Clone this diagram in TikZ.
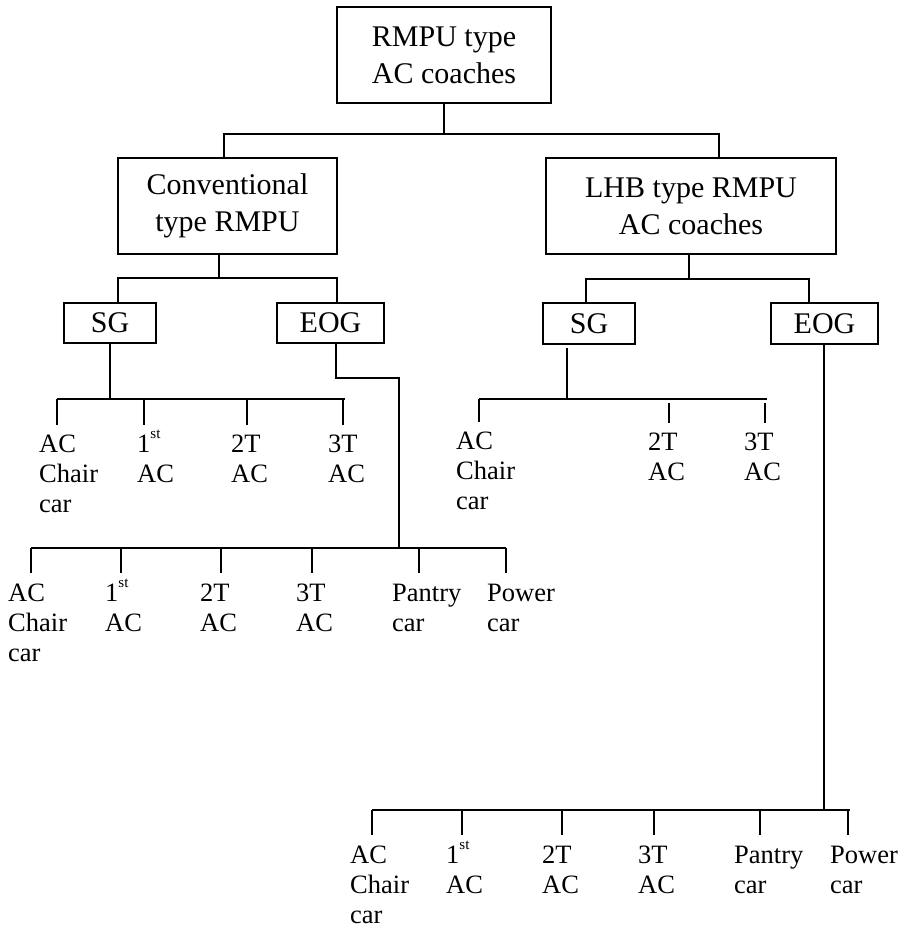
\documentclass[tikz,border=0pt]{standalone}
\usepackage{fontspec}
\setmainfont{Liberation Serif}
\newcommand{\supst}{\raisebox{0.5em}{\fontsize{15}{15}\selectfont st}}
\begin{document}
\begin{tikzpicture}[x=1pt,y=1pt,
  box/.style={draw, line width=2pt, inner sep=0pt, align=center, font=\fontsize{30}{37}\selectfont},
  leaf/.style={anchor=base west, inner sep=0pt, font=\fontsize{26.5}{30}\selectfont},
  conn/.style={line width=1.6pt}]
\useasboundingbox (0,0) rectangle (909,-927);
% boxes
\node[box, minimum width=214pt, minimum height=96pt] (top) at (444,-55) {RMPU type\\AC coaches};
\node[box, minimum width=219pt, minimum height=96pt] (conv) at (227.5,-206) {Conventional\\type RMPU};
\node[box, minimum width=290pt, minimum height=96pt] (lhb) at (691,-206) {LHB type RMPU\\AC coaches};
\node[box, minimum width=92pt, minimum height=40pt] (sgA) at (110,-323) {SG};
\node[box, minimum width=107pt, minimum height=40pt] (eogA) at (330.5,-323) {EOG};
\node[box, minimum width=92pt, minimum height=41pt] (sgB) at (589,-323.5) {SG};
\node[box, minimum width=107pt, minimum height=41pt] (eogB) at (824.5,-323.5) {EOG};
% junction coordinates
\coordinate (j1L) at (224,-134);
\coordinate (j1R) at (719,-134);
\coordinate (j2L) at (118,-278);
\coordinate (j2R) at (337,-278);
\coordinate (j2M) at (219,-278);
\coordinate (j3L) at (586,-279);
\coordinate (j3R) at (809,-279);
\coordinate (j3M) at (689,-279);
% level 1
\draw[conn] (top.south) -- (top.south |- j1L);
\draw[conn] (j1L |- conv.north) -- (j1L) -- (j1R) -- (j1R |- lhb.north);
% conventional
\draw[conn] (j2M |- conv.south) -- (j2M);
\draw[conn] (j2L |- sgA.north) -- (j2L) -- (j2R) -- (j2R |- eogA.north);
% LHB
\draw[conn] (j3M |- lhb.south) -- (j3M);
\draw[conn] (j3L |- sgB.north) -- (j3L) -- (j3R) -- (j3R |- eogB.north);
% SG A leaves
\coordinate (a0) at (57,-399);
\coordinate (a1) at (144,-399);
\coordinate (a2) at (247,-399);
\coordinate (a3) at (343,-399);
\coordinate (aE) at (345,-399);
\draw[conn] (sgA.south) -- (sgA.south |- a0);
\draw[conn] (a0) -- (aE);
\foreach \c in {a0,a1,a2,a3} \draw[conn] (\c) -- ++(0,-26);
\node[leaf] (la0) at (39,-452) {\parbox[t]{4em}{AC\\Chair\\car}};
\node[leaf] (la1) at (137,-452) {\parbox[t]{4em}{1\supst\\AC}};
\node[leaf] (la2) at (231,-452) {\parbox[t]{4em}{2T\\AC}};
\node[leaf] (la3) at (328,-452) {\parbox[t]{4em}{3T\\AC}};
% EOG A leaves
\coordinate (eA1) at (336,-378);
\coordinate (eA2) at (399,-378);
\coordinate (b0) at (31,-548);
\coordinate (b1) at (121,-548);
\coordinate (b2) at (221,-548);
\coordinate (b3) at (312,-548);
\coordinate (b4) at (419,-548);
\coordinate (b5) at (506,-548);
\draw[conn] (eogA.south -| eA1) -- (eA1) -- (eA2) -- (eA2 |- b0);
\draw[conn] (b0) -- (b5);
\foreach \c in {b0,b1,b2,b3,b4,b5} \draw[conn] (\c) -- ++(0,-25);
\node[leaf] (lb0) at (8,-601) {\parbox[t]{4em}{AC\\Chair\\car}};
\node[leaf] (lb1) at (105,-601) {\parbox[t]{4em}{1\supst\\AC}};
\node[leaf] (lb2) at (200,-601) {\parbox[t]{4em}{2T\\AC}};
\node[leaf] (lb3) at (296,-601) {\parbox[t]{4em}{3T\\AC}};
\node[leaf] (lb4) at (392,-601) {\parbox[t]{4em}{Pantry\\car}};
\node[leaf] (lb5) at (487,-601) {\parbox[t]{4em}{Power\\car}};
% SG B leaves
\coordinate (c0) at (479,-399);
\coordinate (cS) at (567,-399);
\coordinate (cE) at (767,-399);
\coordinate (c1) at (669,-403);
\coordinate (c2) at (765,-403);
\draw[conn] ([yshift=-3pt]sgB.south -| cS) -- (cS);
\draw[conn] (c0) -- (cE);
\draw[conn] (c0) -- ++(0,-23);
\foreach \c in {c1,c2} \draw[conn] (\c) -- ++(0,-20);
\node[leaf] (lc0) at (456,-449) {\parbox[t]{4em}{AC\\Chair\\car}};
\node[leaf] (lc1) at (648,-450) {\parbox[t]{4em}{2T\\AC}};
\node[leaf] (lc2) at (744,-450) {\parbox[t]{4em}{3T\\AC}};
% EOG B leaves
\coordinate (d0) at (372,-810);
\coordinate (d1) at (462,-810);
\coordinate (d2) at (562,-810);
\coordinate (d3) at (654,-810);
\coordinate (d4) at (760,-810);
\coordinate (d5) at (848,-810);
\coordinate (dE) at (850,-810);
\coordinate (dM) at (824,-810);
\draw[conn] (eogB.south -| dM) -- (dM);
\draw[conn] (d0) -- (dE);
\foreach \c in {d0,d1,d2,d3,d4,d5} \draw[conn] (\c) -- ++(0,-25);
\node[leaf] (ld0) at (350,-863) {\parbox[t]{4em}{AC\\Chair\\car}};
\node[leaf] (ld1) at (446,-863) {\parbox[t]{4em}{1\supst\\AC}};
\node[leaf] (ld2) at (542,-863) {\parbox[t]{4em}{2T\\AC}};
\node[leaf] (ld3) at (638,-863) {\parbox[t]{4em}{3T\\AC}};
\node[leaf] (ld4) at (734,-863) {\parbox[t]{4em}{Pantry\\car}};
\node[leaf] (ld5) at (830,-863) {\parbox[t]{4em}{Power\\car}};
\end{tikzpicture}
\end{document}
